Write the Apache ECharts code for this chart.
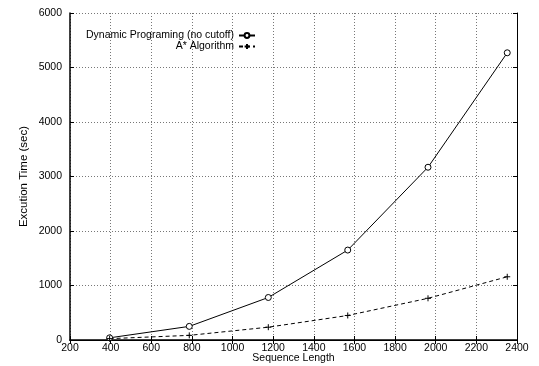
<!DOCTYPE html>
<html>
<head>
<meta charset="utf-8">
<script src="https://cdn.jsdelivr.net/npm/echarts@6/dist/echarts.min.js"></script>
<style>
  html, body { margin: 0; padding: 0; background: #fff; }
  #chart { width: 539px; height: 366px; }
</style>
</head>
<body>
<div id="chart"></div>
<script>
// 数据
var seqLength = [395, 787, 1176, 1567, 1962, 2352];
var dpTime = [40, 250, 780, 1650, 3170, 5270];
var astarTime = [25, 85, 235, 450, 765, 1160];

var dpName = 'Dynamic Programing (no cutoff)';
var astarName = 'A* Algorithm';

(function() {
    var myChart = echarts.init(document.getElementById('chart'));

    function pairs(xs, ys) {
        var out = [];
        for (var i = 0; i < xs.length; i++) out.push([xs[i], ys[i]]);
        return out;
    }

    var font = 'Liberation Sans, Arial, sans-serif';
    var tickStyle = { show: true, inside: true, length: 4, lineStyle: { color: '#000' } };
    // 不要千位分隔符
    var plain = function(v) { return String(v); };

    option = {
        backgroundColor: '#fff',
        animation: false,
        textStyle: { fontFamily: font, color: '#000' },
        grid: { left: 70, right: 22, top: 13, bottom: 26, outerBoundsMode: 'none' },
        legend: [{
            data: [dpName],
            right: 283,
            top: 30,
            padding: 0,
            align: 'right',
            itemWidth: 16,
            itemHeight: 6,
            itemGap: 2,
            textStyle: { fontSize: 10.5, color: '#000', fontFamily: font }
        }, {
            data: [astarName],
            right: 283,
            top: 41,
            padding: 0,
            align: 'right',
            itemWidth: 16,
            itemHeight: 6,
            itemGap: 2,
            textStyle: { fontSize: 10.5, color: '#000', fontFamily: font }
        }],
        xAxis: [{
            type: 'value',
            min: 200,
            max: 2400,
            interval: 200,
            name: 'Sequence Length',
            nameLocation: 'middle',
            nameGap: 13,
            nameMoveOverlap: false,
            nameTextStyle: { fontSize: 10.5, color: '#000', verticalAlign: 'top' },
            axisLine: { lineStyle: { color: '#000', width: 1.5 } },
            axisTick: tickStyle,
            axisLabel: { fontSize: 10.5, color: '#000', margin: 3, formatter: plain },
            splitLine: { show: true, lineStyle: { color: '#777', type: [1, 2] } }
        }, {
            type: 'value',
            position: 'top',
            min: 200,
            max: 2400,
            interval: 200,
            axisLine: { show: true, lineStyle: { color: '#000' } },
            axisTick: tickStyle,
            axisLabel: { show: false },
            splitLine: { show: false }
        }],
        yAxis: [{
            type: 'value',
            min: 0,
            max: 6000,
            interval: 1000,
            name: 'Excution Time (sec)',
            nameLocation: 'middle',
            nameGap: 40,
            nameMoveOverlap: false,
            nameTextStyle: { fontSize: 11.5, color: '#000' },
            axisLine: { show: true, lineStyle: { color: '#000', width: 1.5 } },
            axisTick: tickStyle,
            axisLabel: { fontSize: 10.5, color: '#000', margin: 8, formatter: plain },
            splitLine: { show: true, lineStyle: { color: '#777', type: [1, 2] } }
        }, {
            type: 'value',
            position: 'right',
            min: 0,
            max: 6000,
            interval: 1000,
            axisLine: { show: true, lineStyle: { color: '#000' } },
            axisTick: tickStyle,
            axisLabel: { show: false },
            splitLine: { show: false }
        }],
        series: [{
            name: dpName,
            type: 'line',
            symbol: 'circle',
            symbolSize: 6,
            itemStyle: { color: '#fff', borderColor: '#000', borderWidth: 1 },
            lineStyle: { color: '#000', width: 1 },
            data: pairs(seqLength, dpTime)
        }, {
            name: astarName,
            type: 'line',
            symbol: 'path://M0,5L10,5M5,0L5,10',
            symbolSize: 6,
            itemStyle: { color: '#000', borderColor: '#000', borderWidth: 1 },
            lineStyle: { color: '#000', width: 1, type: [4, 3] },
            data: pairs(seqLength, astarTime)
        }]
    };

    myChart.setOption(option);
})();
</script>
</body>
</html>
